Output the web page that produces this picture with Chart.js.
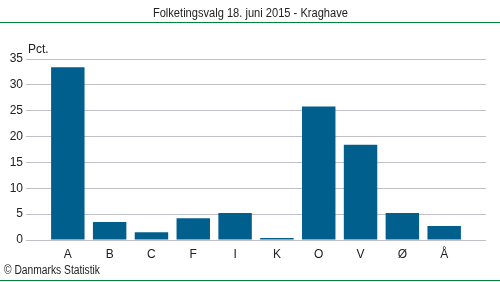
<!DOCTYPE html>
<html><head><meta charset="utf-8">
<script src="https://cdn.jsdelivr.net/npm/chart.js@4.4.0/dist/chart.umd.min.js"></script>
<style>
html,body{margin:0;padding:0;background:#fff;}
#wrap{position:relative;width:500px;height:282px;font-family:"Liberation Sans",Arial,sans-serif;color:#222;}
#title{position:absolute;top:6px;left:0;width:500px;text-align:center;font-size:12px;}
#title span{display:inline-block;transform-origin:center;}
.gl{position:absolute;left:0;width:500px;height:1px;background:#00843c;}
#pct{position:absolute;left:28px;top:42px;font-size:12px;}
#copy{position:absolute;left:4px;top:263px;font-size:12px;transform-origin:left center;white-space:nowrap;}
canvas{position:absolute;left:0;top:0;}
</style></head>
<body>
<div id="wrap">
<canvas id="c" width="500" height="282"></canvas>
<div id="title"><span id="tspan">Folketingsvalg 18. juni 2015 - Kraghave</span></div>
<div class="gl" style="top:22px"></div>
<div class="gl" style="top:280px"></div>
<div id="pct">Pct.</div>
<div id="copy">© Danmarks Statistik</div>
</div>
<script>
const categories = ['A','B','C','F','I','K','O','V','Ø','Å'];
const values = [33.4, 3.5, 1.5, 4.2, 5.2, 0.4, 25.8, 18.4, 5.2, 2.7];
const yTicks = [0,5,10,15,20,25,30,35];

// fit text widths to the reference layout
(function(){
  const t = document.getElementById('tspan');
  t.style.transform = 'scaleX(' + (195 / t.getBoundingClientRect().width) + ')';
  const c = document.getElementById('copy');
  c.style.display = 'inline-block';
  c.style.transform = 'scaleX(' + (96 / c.getBoundingClientRect().width) + ')';
})();

const labels = [''].concat(categories, ['']);
const data = [null].concat(values, [null]);

new Chart(document.getElementById('c'), {
  type: 'bar',
  data: { labels: labels, datasets: [{ data: data, backgroundColor: '#005f8c', borderWidth: 0, categoryPercentage: 0.8, barPercentage: 1 }] },
  options: {
    responsive: false, animation: false,
    layout: { padding: { left: 0, right: 14, top: 59, bottom: 0 } },
    plugins: { legend: { display: false }, tooltip: { enabled: false } },
    scales: {
      x: {
        offset: false,
        grid: { display: false, drawTicks: false },
        border: { display: false },
        ticks: { color: '#222', font: { family: 'Liberation Sans', size: 12 }, padding: 7, maxRotation: 0, autoSkip: false },
        afterFit: s => { s.height = 42; }
      },
      y: {
        min: 0, max: 35,
        afterBuildTicks: s => { s.ticks = yTicks.map(v => ({ value: v })); },
        grid: { color: '#c0c0c8', drawTicks: false, lineWidth: 1 },
        border: { display: false },
        ticks: { color: '#222', font: { family: 'Liberation Sans', size: 12 }, padding: 3 },
        afterFit: s => { s.width = 26; }
      }
    }
  }
});
</script>
</body></html>
